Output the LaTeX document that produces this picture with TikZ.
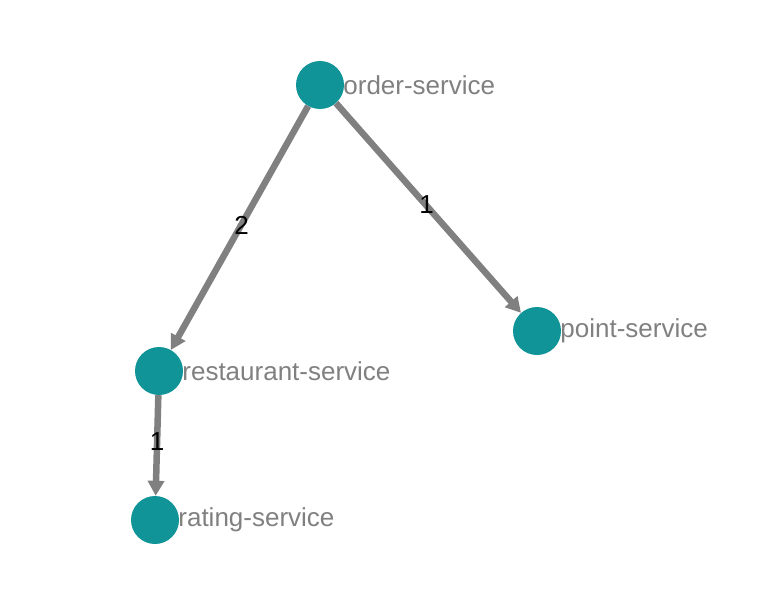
\documentclass[tikz,border=0pt]{standalone}
\usepackage{fontspec}
\setmainfont{Liberation Sans}
\usepackage{tikz}
\usetikzlibrary{%
  arrows.meta%
}
\definecolor{svcteal}{RGB}{16,148,152}
\definecolor{svcgrey}{RGB}{128,128,128}

\begin{document}
\begin{tikzpicture}[x=1pt,y=-1pt,
    svc/.style={circle,fill=svcteal,minimum size=48pt,inner sep=0pt},
    svclabel/.style={anchor=west,text=svcgrey,inner sep=0pt,
      font=\fontsize{26}{31}\selectfont},
    call/.style={draw=svcgrey,line width=6.5pt,
      -{Triangle[length=15pt,width=16pt]}},
    count/.style={midway,inner sep=0pt,font=\fontsize{26}{31}\selectfont}
  ]
      \useasboundingbox (0,0) rectangle (768,589);
      \node [svc] (order) at (320,85) {};
      \node [svc] (restaurant) at (159,371) {};
      \node [svc] (point) at (537,331) {};
      \node [svc] (rating) at (155,520) {};
      \node [svclabel] (orderlbl) at ([xshift=-1pt]order.east) {order-service};
      \node [svclabel] (restaurantlbl) at ([xshift=-1pt]restaurant.east) {restaurant-service};
      \node [svclabel] (pointlbl) at ([xshift=-1pt]point.east) {point-service};
      \node [svclabel] (ratinglbl) at ([xshift=-1pt]rating.east) {rating-service};
      \draw [call] (order) -- (restaurant) node [count,xshift=2pt,yshift=3pt] {2};
      \draw [call] (order) -- (point) node [count,xshift=-2pt,yshift=3pt] {1};
      \draw [call] (restaurant) -- (rating) node [count,yshift=4pt] {1};
    \end{tikzpicture}
\end{document}
